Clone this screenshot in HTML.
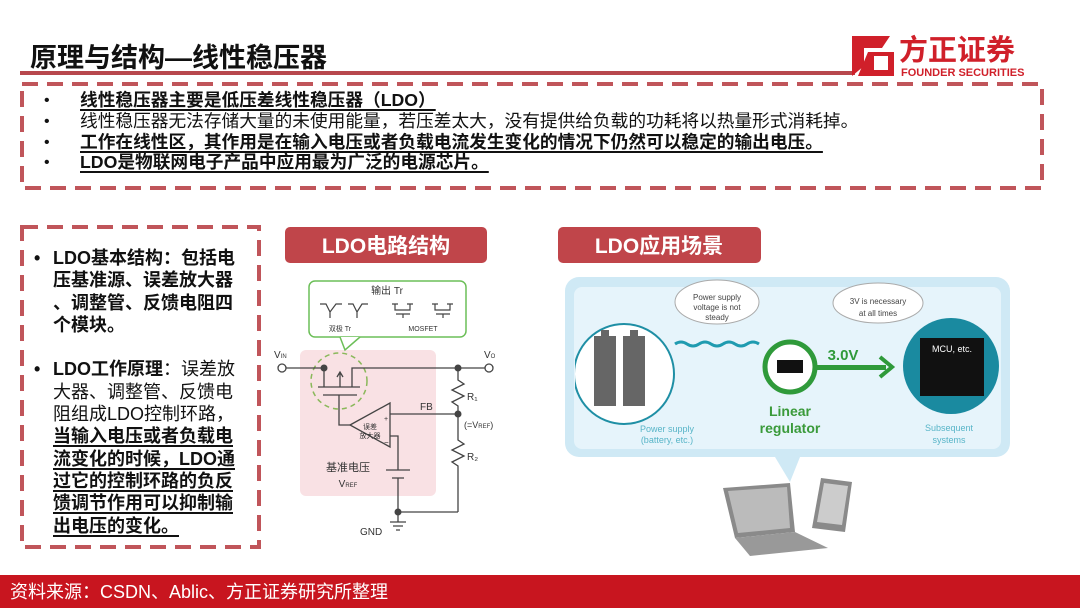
<!DOCTYPE html>
<html><head><meta charset="utf-8"><style>
html,body{margin:0;padding:0;background:#fff;}
body{width:1080px;height:608px;overflow:hidden;position:relative;font-family:"Liberation Sans","Noto Sans CJK SC",sans-serif;}
.t{position:absolute;white-space:nowrap;color:#111;}
.u{text-decoration:underline;text-decoration-thickness:2px;text-underline-offset:3px;}
</style></head><body>
<svg width="1080" height="608" style="position:absolute;left:0;top:0" font-family="Liberation Sans, Noto Sans CJK SC, sans-serif">
<defs><clipPath id="pc"><rect x="575" y="287" width="427" height="162"/></clipPath></defs>
<rect x="20" y="71" width="835" height="4" fill="#b8484d"/>
<rect x="22" y="84" width="1020" height="104" fill="none" stroke="#c0555a" stroke-width="4" stroke-dasharray="16 9"/>
<rect x="22" y="227" width="237" height="320" fill="none" stroke="#c0555a" stroke-width="4" stroke-dasharray="16 9"/>
<path d="M852 36 L890 36 L882 48 L864 48 L864 66 L852 76 Z" fill="#d0202a"/>
<path d="M868 52 L894 52 L894 76 L858 76 Z" fill="#d0202a"/>
<rect x="874" y="56" width="14" height="14" fill="#fff"/>
<text x="899" y="60" font-size="29" font-weight="bold" fill="#d0202a">方正证券</text>
<text x="901" y="76" font-size="11" font-weight="bold" fill="#d0202a">FOUNDER SECURITIES</text>
<rect x="285" y="227" width="202" height="36" rx="5" fill="#c0454a"/>
<text x="386" y="253" font-size="21" font-weight="bold" fill="#fff" text-anchor="middle">LDO电路结构</text>
<rect x="558" y="227" width="203" height="36" rx="5" fill="#c0454a"/>
<text x="659" y="253" font-size="21" font-weight="bold" fill="#fff" text-anchor="middle">LDO应用场景</text>
<rect x="300" y="350" width="136" height="146" rx="6" fill="#f9e1e4"/>
<rect x="309" y="281" width="157" height="56" rx="6" fill="#fff" stroke="#6cbf58" stroke-width="1.5"/>
<path d="M340 337 L345 350 L360 337" fill="#fff" stroke="#6cbf58" stroke-width="1.5"/>
<text x="387" y="294" font-size="10" text-anchor="middle" fill="#333">输出 Tr</text>
<g stroke="#444" stroke-width="1.2" fill="none">
<path d="M320 304 L326 304 L330 312 L336 304 L342 304 M330 312 L330 318"/>
<path d="M348 304 L353 304 L357 312 L362 304 L368 304 M357 312 L357 318"/>
<path d="M395 304 L395 310 L410 310 L410 304 M396 314 L410 314 M403 314 L403 318 M392 304 L398 304 M407 304 L413 304"/>
<path d="M435 304 L435 310 L450 310 L450 304 M436 314 L450 314 M443 314 L443 318 M432 304 L438 304 M447 304 L453 304"/>
</g>
<text x="340" y="331" font-size="7" fill="#333" text-anchor="middle">双极 Tr</text>
<text x="423" y="331" font-size="7" fill="#333" text-anchor="middle">MOSFET</text>
<circle cx="339" cy="381" r="28" fill="none" stroke="#8ab85a" stroke-width="1.5" stroke-dasharray="5 4"/>
<g stroke="#444" stroke-width="1.3" fill="none">
<path d="M286 368 L324 368 L324 387 M352 387 L352 368 L458 368 L486 368"/>
<path d="M318 387 L360 387 M323 395 L357 395"/>
<path d="M340 387 L340 373 M337 377 L340 372 L343 377"/>
<path d="M339 395 L339 425 L350 425"/>
<path d="M350 425 L390 403 L390 447 Z"/>
<path d="M390 414 L458 414 M390 436 L398 436 L398 470"/>
<path d="M386 470 L410 470 M392 478 L404 478 M398 478 L398 512 L458 512"/>
<path d="M458 368 L458 380 L464 384 L452 390 L464 396 L452 402 L458 406 L458 440 L464 444 L452 450 L464 456 L452 462 L458 466 L458 512"/>
<path d="M398 512 L398 522 M390 522 L406 522 M393 526 L403 526 M396 530 L400 530"/>
</g>
<circle cx="282" cy="368" r="4" fill="#fff" stroke="#444" stroke-width="1.3"/>
<circle cx="489" cy="368" r="4" fill="#fff" stroke="#444" stroke-width="1.3"/>
<circle cx="324" cy="368" r="3.5" fill="#444"/><circle cx="458" cy="368" r="3.5" fill="#444"/>
<circle cx="458" cy="414" r="3.5" fill="#444"/><circle cx="398" cy="512" r="3.5" fill="#444"/>
<text x="274" y="358" font-size="10" fill="#333">V<tspan font-size="6">IN</tspan></text>
<text x="484" y="358" font-size="10" fill="#333">V<tspan font-size="6">O</tspan></text>
<text x="467" y="400" font-size="10" fill="#333">R₁</text>
<text x="467" y="460" font-size="10" fill="#333">R₂</text>
<text x="420" y="410" font-size="10" fill="#333">FB</text>
<text x="464" y="428" font-size="9" fill="#333">(=V<tspan font-size="6">REF</tspan>)</text>
<text x="370" y="429" font-size="7" fill="#333" text-anchor="middle">误差</text>
<text x="370" y="438" font-size="7" fill="#333" text-anchor="middle">放大器</text>
<text x="384" y="421" font-size="7" fill="#333">+</text>
<text x="384" y="445" font-size="8" fill="#333">−</text>
<text x="348" y="471" font-size="11" fill="#333" text-anchor="middle">基准电压</text>
<text x="348" y="487" font-size="10" fill="#333" text-anchor="middle">V<tspan font-size="6">REF</tspan></text>
<text x="360" y="535" font-size="10" fill="#333">GND</text>
<rect x="565" y="277" width="445" height="180" rx="14" fill="#cfe9f5"/>
<rect x="574" y="287" width="427" height="162" rx="8" fill="#e6f4fb"/>
<path d="M775 457 L790 482 L800 457 Z" fill="#cfe9f5"/>
<circle cx="624" cy="374" r="50" fill="#fff" stroke="#1f8fa5" stroke-width="2" clip-path="url(#pc)"/>
<rect x="594" y="336" width="22" height="70" fill="#666"/><rect x="601" y="330" width="8" height="6" fill="#666"/>
<rect x="623" y="336" width="22" height="70" fill="#666"/><rect x="630" y="330" width="8" height="6" fill="#666"/>
<path d="M675 344 q6 -4 12 0 t12 0 t12 0 t12 0 t12 0 t12 0 t12 0" fill="none" stroke="#1f9bb0" stroke-width="3"/>
<ellipse cx="717" cy="302" rx="42" ry="22" fill="#fff" stroke="#aaa"/>
<text x="717" y="300" font-size="8" fill="#444" text-anchor="middle">Power supply</text>
<text x="717" y="310" font-size="8" fill="#444" text-anchor="middle">voltage is not</text>
<text x="717" y="320" font-size="8" fill="#444" text-anchor="middle">steady</text>
<ellipse cx="878" cy="303" rx="45" ry="20" fill="#fff" stroke="#aaa"/>
<text x="878" y="304" font-size="8" fill="#444" text-anchor="middle">3V is necessary</text>
<text x="878" y="316" font-size="8" fill="#444" text-anchor="middle">at all times</text>
<circle cx="790" cy="367" r="25" fill="#fff" stroke="#2f9a3a" stroke-width="5"/>
<rect x="777" y="360" width="26" height="13" fill="#111"/>
<rect x="814" y="365" width="72" height="5" fill="#2f9a3a"/>
<path d="M880 357 L892 367 L880 377" fill="none" stroke="#2f9a3a" stroke-width="4"/>
<text x="843" y="360" font-size="15" font-weight="bold" fill="#2f9a3a" text-anchor="middle">3.0V</text>
<text x="790" y="416" font-size="14" font-weight="bold" fill="#3a9a3a" text-anchor="middle">Linear</text>
<text x="790" y="433" font-size="14" font-weight="bold" fill="#3a9a3a" text-anchor="middle">regulator</text>
<circle cx="951" cy="366" r="48" fill="#1a8aa0"/>
<rect x="920" y="338" width="64" height="58" fill="#111"/>
<text x="952" y="352" font-size="9" fill="#fff" text-anchor="middle">MCU, etc.</text>
<text x="667" y="432" font-size="9" fill="#58b5c8" text-anchor="middle">Power supply</text>
<text x="667" y="443" font-size="9" fill="#58b5c8" text-anchor="middle">(battery, etc.)</text>
<text x="949" y="431" font-size="9" fill="#58b5c8" text-anchor="middle">Subsequent</text>
<text x="949" y="443" font-size="9" fill="#58b5c8" text-anchor="middle">systems</text>
<path d="M723 488 L790 483 L795 532 L735 538 Z" fill="#8a8a8a"/>
<path d="M728 491 L787 487 L790 528 L738 533 Z" fill="#bbb"/>
<path d="M735 538 L795 532 L828 548 L750 556 Z" fill="#999"/>
<path d="M821 478 L852 482 L845 532 L812 528 Z" fill="#8a8a8a"/>
<path d="M824 483 L848 486 L842 525 L817 522 Z" fill="#ccc"/>
<rect x="0" y="575" width="1080" height="33" fill="#c8151f"/>
<text x="10" y="598" font-size="18" fill="#fff">资料来源：CSDN、Ablic、方正证券研究所整理</text>
</svg>
<div class="t" style="left:30px;top:36px;font-size:27px;font-weight:bold;">原理与结构—线性稳压器</div>
<div class="t" style="left:44px;top:91px;font-size:16px;line-height:20.8px;">
•<br>•<br>•<br>•</div>
<div class="t" style="left:80px;top:90px;font-size:17.7px;line-height:20.8px;">
<b class="u">线性稳压器主要是低压差线性稳压器（LDO）</b><br>
线性稳压器无法存储大量的未使用能量，若压差太大，没有提供给负载的功耗将以热量形式消耗掉。<br>
<b class="u">工作在线性区，其作用是在输入电压或者负载电流发生变化的情况下仍然可以稳定的输出电压。</b><br>
<b class="u">LDO是物联网电子产品中应用最为广泛的电源芯片。</b></div>
<div class="t" style="left:34px;top:247px;font-size:18px;line-height:22.3px;font-weight:bold;">•<br><br><br><br><br>•</div>
<div class="t" style="left:53px;top:247px;font-size:18px;line-height:22.3px;width:190px;white-space:normal;">
<b>LDO基本结构：包括电<br>压基准源、误差放大器<br>、调整管、反馈电阻四<br>个模块。</b><br><br>
<b>LDO工作原理</b>：误差放<br>大器、调整管、反馈电<br>阻组成LDO控制环路，<br>
<b class="u">当输入电压或者负载电</b><br><b class="u">流变化的时候，LDO通</b><br><b class="u">过它的控制环路的负反</b><br><b class="u">馈调节作用可以抑制输</b><br><b class="u">出电压的变化。</b></div>
</body></html>
